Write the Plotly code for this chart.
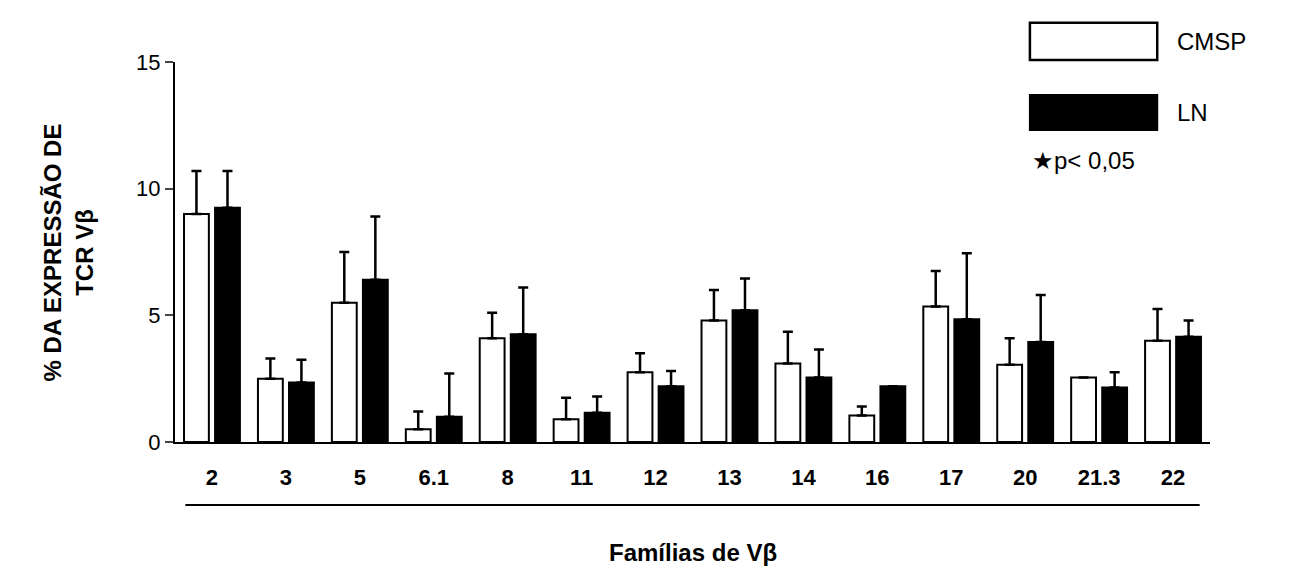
import plotly.graph_objects as go

categories = ["2", "3", "5", "6.1", "8", "11", "12", "13", "14", "16", "17", "20", "21.3", "22"]
cmsp_mean = [9.0, 2.5, 5.5, 0.5, 4.1, 0.9, 2.75, 4.8, 3.1, 1.05, 5.35, 3.05, 2.55, 4.0]
cmsp_upper = [10.7, 3.3, 7.5, 1.2, 5.1, 1.75, 3.5, 6.0, 4.35, 1.4, 6.75, 4.1, 2.55, 5.25]
ln_mean = [9.25, 2.35, 6.4, 1.0, 4.25, 1.15, 2.2, 5.2, 2.55, 2.2, 4.85, 3.95, 2.15, 4.15]
ln_upper = [10.7, 3.25, 8.9, 2.7, 6.1, 1.8, 2.8, 6.45, 3.65, 2.2, 7.45, 5.8, 2.75, 4.8]

cm_err = [u - m for u, m in zip(cmsp_upper, cmsp_mean)]
ln_err = [u - m for u, m in zip(ln_upper, ln_mean)]

fig = go.Figure()
fig.add_trace(go.Bar(x=categories, y=cmsp_mean, name="CMSP",
                     marker=dict(color="white", line=dict(color="black", width=2)),
                     error_y=dict(type="data", array=cm_err, arrayminus=[0]*len(cm_err),
                                  symmetric=False, color="black", thickness=2.5, width=5)))
fig.add_trace(go.Bar(x=categories, y=ln_mean, name="LN",
                     marker=dict(color="black", line=dict(color="black", width=2)),
                     error_y=dict(type="data", array=ln_err, arrayminus=[0]*len(ln_err),
                                  symmetric=False, color="black", thickness=2.5, width=5)))

fig.update_layout(
    width=1290, height=570, plot_bgcolor="white", paper_bgcolor="white",
    margin=dict(l=167, r=88, t=54, b=136),
    barmode="group", bargap=0.16, bargroupgap=0.2, showlegend=False,
    font=dict(family="Liberation Sans, Arial", color="black", size=22),
    xaxis=dict(showline=True, linecolor="black", linewidth=2, ticks="",
               tickfont=dict(size=22, family="Liberation Sans, Arial", weight="bold"),
               ticklabelstandoff=15, showgrid=False),
    yaxis=dict(range=[0, 15], tickvals=[0, 5, 10, 15], showline=True, linecolor="black",
               linewidth=2, ticks="outside", ticklen=8, tickwidth=2, showgrid=False,
               zeroline=False, tickfont=dict(size=22)),
)

fig.add_shape(type="line", xref="paper", yref="paper", x0=0.01, x1=0.99, y0=-0.166, y1=-0.166,
              line=dict(color="black", width=2))
fig.add_annotation(text="<b>Famílias de Vβ</b>", xref="paper", yref="paper", x=0.5, y=-0.29,
                   yanchor="middle", showarrow=False, font=dict(size=24))
fig.add_annotation(text="<b>% DA EXPRESSÃO DE<br>TCR Vβ</b>", xref="paper", yref="paper",
                   x=-0.103, y=0.5, xanchor="center", yanchor="middle", textangle=-90,
                   showarrow=False, font=dict(size=24))

# legend
fig.add_shape(type="rect", xref="paper", yref="paper", x0=0.826, x1=0.949, y0=1.103, y1=1.005,
              line=dict(color="black", width=2.5), fillcolor="white")
fig.add_shape(type="rect", xref="paper", yref="paper", x0=0.826, x1=0.949, y0=0.913, y1=0.821,
              line=dict(color="black", width=2), fillcolor="black")
fig.add_annotation(text="CMSP", xref="paper", yref="paper", x=0.966, y=1.053, xanchor="left",
                   yanchor="middle", showarrow=False, font=dict(size=24))
fig.add_annotation(text="LN", xref="paper", yref="paper", x=0.966, y=0.868, xanchor="left",
                   yanchor="middle", showarrow=False, font=dict(size=24))
fig.add_annotation(text="★p< 0,05", xref="paper", yref="paper", x=0.826, y=0.742, xanchor="left",
                   yanchor="middle", showarrow=False, font=dict(size=24))

fig.write_html("out.html")
